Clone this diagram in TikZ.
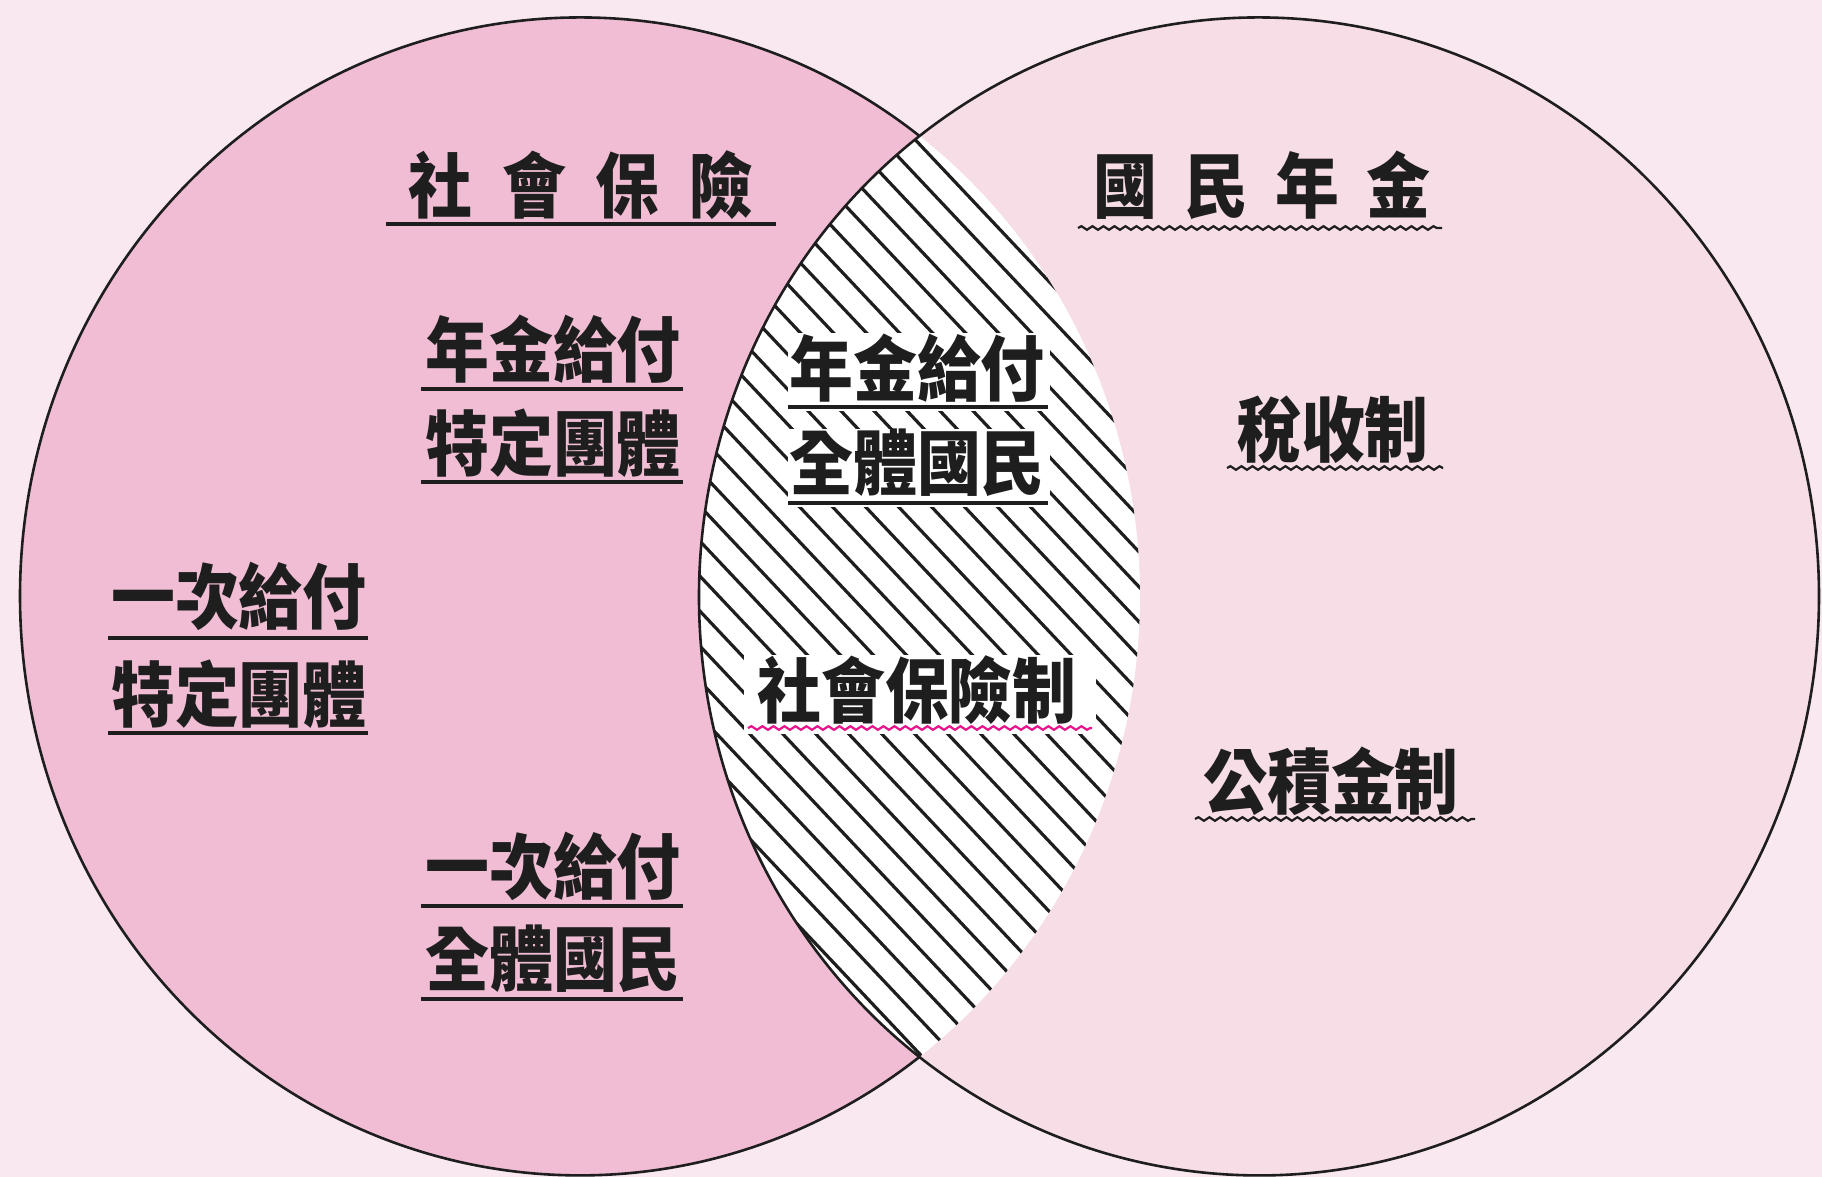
\documentclass[tikz,border=0pt]{standalone}
\usepackage{fontspec}
\newfontfamily\cjk[FakeStretch=0.9]{Noto Sans CJK TC}
\usetikzlibrary{decorations.pathmorphing}
\definecolor{bgpink}{RGB}{250,232,240}
\definecolor{leftpink}{RGB}{240,189,212}
\definecolor{rightpink}{RGB}{246,221,230}
\definecolor{magline}{RGB}{230,20,140}
\definecolor{ink}{RGB}{30,30,30}
\begin{document}
\begin{tikzpicture}[x=0.5pt,y=-0.5pt,
  lbl/.style={font=\cjk\bfseries\fontsize{35.5}{40}\selectfont, inner sep=0pt, text=ink},
  uline/.style={draw=ink, line width=1.65pt},
  wline/.style={draw=ink, line width=1.1pt, decorate, decoration={snake, segment length=5.5pt, amplitude=0.9pt}},
  mline/.style={wline, draw=magline},
  outline/.style={draw=ink, line width=1.3pt},
  hatch/.style={draw=ink, line width=1.6pt},
  knock/.style={fill=white, draw=none}
]
% background
\fill[bgpink] (0,0) rectangle (1822,1177);
\useasboundingbox (0,0) rectangle (1822,1177);
% ellipses
\fill[leftpink] (580,596) ellipse [x radius=560, y radius=579];
\fill[rightpink] (1259,596) ellipse [x radius=560, y radius=579];
\coordinate (top) at (919.5,136);
\coordinate (bot) at (919.5,1056);
% lens
\fill[white] (top) arc[start angle=-52.68, end angle=52.68, x radius=560, y radius=579]
   arc[start angle=127.32, end angle=232.68, x radius=560, y radius=579] -- cycle;
\begin{scope}
  \clip (top) arc[start angle=-52.68, end angle=52.68, x radius=560, y radius=579]
   arc[start angle=127.32, end angle=232.68, x radius=560, y radius=579] -- cycle;
  \foreach \i in {-13,...,31} \draw[hatch] ({24.4+33*\i},0) -- ++(1200,1272);
\end{scope}
% outer outlines
\draw[outline] (top) arc[start angle=-52.68, end angle=-307.32, x radius=560, y radius=579];
\draw[outline] (top) arc[start angle=232.68, end angle=-127.32, x radius=560, y radius=579];
% knockouts in lens
\fill[knock] (788,333) rectangle (1050,411);
\fill[knock] (788,429) rectangle (1050,507);
\fill[knock] (744,655) rectangle (1096,734);
% labels
\node[lbl] (n1) at (581,185) {社\hspace{15pt}會\hspace{15pt}保\hspace{15pt}險};
\node[lbl] (n2) at (1262,185) {國\hspace{13.5pt}民\hspace{13.5pt}年\hspace{13.5pt}金};
\node[lbl] (n3) at (553,349) {年金給付};
\node[lbl] (n4) at (553,443) {特定團體};
\node[lbl] (n5) at (917,368) {年金給付};
\node[lbl] (n6) at (917,463) {全體國民};
\node[lbl] (n7) at (239,596) {一次給付};
\node[lbl] (n8) at (239,694) {特定團體};
\node[lbl] (n9) at (553,866) {一次給付};
\node[lbl] (n10) at (553,959) {全體國民};
\node[lbl] (n11) at (917,690) {社會保險制};
\node[lbl] (n12) at (1333,430) {稅收制};
\node[lbl] (n13) at (1331,781) {公積金制};
% underlines
\draw[uline] (386,224) -- (776,224);
\draw[wline] (1078,228) -- (1442,228);
\draw[uline] (421,389) -- (683,389);
\draw[uline] (421,482) -- (683,482);
\draw[uline] (788,407) -- (1048,407);
\draw[uline] (788,503) -- (1048,503);
\draw[uline] (108,638) -- (368,638);
\draw[uline] (108,733) -- (368,733);
\draw[uline] (421,906) -- (683,906);
\draw[uline] (421,999) -- (683,999);
\draw[mline] (748,728) -- (1092,728);
\draw[wline] (1227,468) -- (1443,468);
\draw[wline] (1195,819) -- (1475,819);
\end{tikzpicture}
\end{document}
